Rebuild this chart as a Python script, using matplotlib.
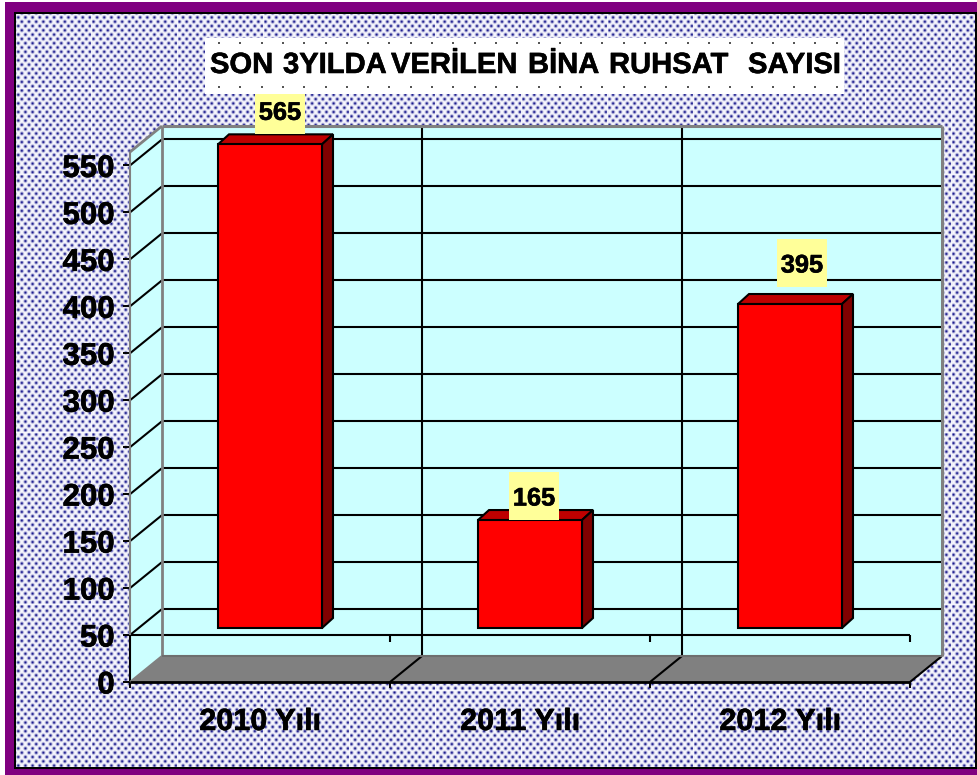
import matplotlib
matplotlib.use('Agg')
import matplotlib.pyplot as plt
import matplotlib.patheffects as pe
import numpy as np
from matplotlib.patches import Polygon, Rectangle
from matplotlib.transforms import Affine2D, IdentityTransform

plt.rcParams['font.family'] = ['Liberation Sans', 'DejaVu Sans']
plt.rcParams['font.weight'] = 'bold'

title_words = ['SON', '3YILDA', 'VERİLEN', 'BİNA', 'RUHSAT', 'SAYISI']
title_left = [210, 283, 391, 528, 609, 748]
categories = ['2010 Yılı', '2011 Yılı', '2012 Yılı']
values = [565, 165, 395]
y_ticks = [0, 50, 100, 150, 200, 250, 300, 350, 400, 450, 500, 550]
base = 50

W, H = 978, 775
fig = plt.figure(figsize=(W / 100, H / 100), dpi=100, facecolor='white')
thick = [pe.withStroke(linewidth=0.4, foreground='black')]


# dotted wallpaper, tiles of 86 px with a pale seam
def make_tile(size=86, px=7.17, py=4.3):
    yy, xx = np.mgrid[0:size, 0:size].astype(float)
    dark = np.zeros((size, size))
    for r in range(-1, int(size / py) + 2):
        for c in range(-1, int(size / px) + 2):
            cx = c * px + (r % 2) * px / 2 + 2
            cy = r * py + 2
            dark = np.maximum(dark, np.exp(-((xx - cx) ** 2 + (yy - cy) ** 2) / 2.4))
    dark[:, 0] *= 0.2
    dark[0, :] *= 0.2
    return dark


tile = make_tile()
ys = (np.arange(H) - 174) % 86
xs = (np.arange(W) - 91) % 86
dark = tile[np.ix_(ys, xs)]
white = np.array([0.98, 0.98, 1.0])
navy = np.array([0.10, 0.10, 0.55])
pattern = white[None, None, :] * (1 - dark[..., None]) + navy[None, None, :] * dark[..., None]

bg = fig.add_axes([0, 0, 1, 1])
bg.set_xlim(0, W)
bg.set_ylim(H, 0)
bg.axis('off')
bg.imshow(pattern, extent=(0, W, H, 0), interpolation='nearest', aspect='auto', zorder=0)

# purple frame and black inner line
purple = '#800080'
bg.add_patch(Rectangle((0, 0), 5, H, fc='white', ec='none', zorder=1))
bg.add_patch(Rectangle((0, 0), W, 2, fc='white', ec='none', zorder=1))
bg.add_patch(Rectangle((5, 2), W, 10, fc=purple, ec='none', zorder=1))
bg.add_patch(Rectangle((5, 2), 9, H, fc=purple, ec='none', zorder=1))
bg.add_patch(Rectangle((5, 769), W, 6, fc=purple, ec='none', zorder=1))
bg.add_patch(Rectangle((14, 12), 2, 757, fc='black', ec='none', zorder=2))
bg.add_patch(Rectangle((14, 12), W, 2, fc='black', ec='none', zorder=2))
bg.add_patch(Rectangle((14, 767), W, 2, fc='black', ec='none', zorder=2))
bg.add_patch(Rectangle((975, 12), 2, 757, fc='black', ec='none', zorder=2))

# chart axes = front plane of the 3d box
ax = fig.add_axes([130 / W, (H - 682) / H, 780 / W, 530 / H])
ax.patch.set_alpha(0)
ax.set_xlim(0, 3)
ax.set_ylim(0, 564.3)
ax.set_autoscale_on(False)
for s in ax.spines.values():
    s.set_visible(False)

DX, DY = 32, 26  # box depth in px


def pt(x, y, dx=0, dy=0):
    p = ax.transData.transform((x, y))
    return (p[0] + dx, p[1] + dy)


def poly(points, **kw):
    ax.add_patch(Polygon(points, closed=True, transform=IdentityTransform(), clip_on=False, **kw))


def seg(a, b, color='black', lw=1.5, z=3):
    ax.plot([a[0], b[0]], [a[1], b[1]], color=color, lw=lw, transform=IdentityTransform(),
            clip_on=False, zorder=z, solid_capstyle='butt')


ymax = ax.get_ylim()[1]
wall = '#CCFFFF'
poly([pt(0, 0, DX, DY), pt(0, ymax, DX, DY), pt(3, ymax, DX, DY), pt(3, 0, DX, DY)],
     fc=wall, ec='none', zorder=1)
poly([pt(0, 0), pt(0, ymax), pt(0, ymax, DX, DY), pt(0, 0, DX, DY)], fc=wall, ec='none', zorder=1)
poly([pt(0, 0), pt(3, 0), pt(3, 0, DX, DY), pt(0, 0, DX, DY)], fc='#808080', ec='none', zorder=1)

# grid on the walls
for t in y_ticks[1:]:
    seg(pt(0, t), pt(0, t, DX, DY))
    seg(pt(0, t, DX, DY), pt(3, t, DX, DY))
for i in [1, 2]:
    seg(pt(i, 0, DX, DY), pt(i, ymax, DX, DY))
for i in [1, 2, 3]:
    seg(pt(i, 0), pt(i, 0, DX, DY))

# grey box edges
grey = '#808080'
seg(pt(0, 0, DX, DY), pt(0, ymax, DX, DY), grey, 2, 4)
seg(pt(0, ymax), pt(0, ymax, DX, DY), grey, 2, 4)
seg(pt(0, ymax, DX, DY), pt(3, ymax, DX, DY), grey, 2.2, 4)
seg(pt(3, 0, DX, DY), pt(3, ymax, DX, DY), grey, 2.2, 4)
seg(pt(0, base), pt(0, ymax), grey, 1.5, 4)
seg(pt(0, 0), pt(0, 0, DX, DY), grey, 1.5, 4)
seg(pt(0, 0, DX, DY), pt(3, 0, DX, DY), '#6e6e6e', 1.5, 4)

# axis drawn at the bars' base value, with its little ticks
seg(pt(0, base), pt(3, base))
for i in [1, 2, 3]:
    seg(pt(i, base), pt(i, base, 0, -7))
seg(pt(0, 0), pt(0, base))
seg(pt(0, 0), pt(3, 0), lw=2, z=5)

# bars
x = np.arange(len(values)) + 0.5
bar_w = 0.4
OX, OY = 10, 7
off = Affine2D().translate(OX, OY)
hts = [v - base for v in values]
ax.bar(x, hts, bar_w, bottom=base, color='#FF0000', edgecolor='black', linewidth=1.5,
       transform=ax.transData + off, clip_on=False, zorder=7)
bd, bh = 11, 10
for xi, v in zip(x, values):
    l, r = xi - bar_w / 2, xi + bar_w / 2
    poly([pt(l, v, OX, OY), pt(r, v, OX, OY), pt(r, v, OX + bd, OY + bh), pt(l, v, OX + bd, OY + bh)],
         fc='#BF0000', ec='black', lw=1.5, zorder=6)
    poly([pt(r, base, OX, OY), pt(r, v, OX, OY), pt(r, v, OX + bd, OY + bh), pt(r, base, OX + bd, OY + bh)],
         fc='#800000', ec='black', lw=1.5, zorder=6)

# data labels on pale yellow boxes (offsets from bar top in px)
label_off = [(20, 41), (14, 31), (22, 48)]
for xi, v, (ox, oy) in zip(x, values, label_off):
    cx, cy = pt(xi, v, ox, oy)
    ax.add_patch(Rectangle((cx - 25, cy - 24), 50, 48, fc='#FFFF99', ec='none',
                           transform=IdentityTransform(), clip_on=False, zorder=8))
    ax.text(cx, cy, str(v), transform=IdentityTransform(), ha='center', va='center_baseline',
            fontsize=18.3, color='black', zorder=9, path_effects=thick)

# ticks and labels
ax.set_yticks(y_ticks)
ax.tick_params(axis='y', length=5, width=1.4, pad=6, labelsize=22.5, color='black')
ax.set_xticks([0, 1, 2, 3])
ax.set_xticklabels([])
ax.tick_params(axis='x', which='major', length=4.5, width=1.4)
ax.set_xticks(x, minor=True)
ax.set_xticklabels(categories, minor=True, fontsize=22)
ax.tick_params(axis='x', which='minor', length=0, pad=18)
for lab in ax.get_yticklabels() + ax.get_xticklabels(minor=True):
    lab.set_path_effects(thick)

# title box on top of everything
tb = fig.add_axes([0, 0, 1, 1], zorder=10)
tb.set_xlim(0, W)
tb.set_ylim(H, 0)
tb.axis('off')
tb.add_patch(Rectangle((205, 38), 639, 56, fc='white', ec='none'))
dots_x = np.arange(219, 840, 21.3)
tb.scatter(dots_x, np.full(len(dots_x), 43), s=4, c='#555555', marker='s', linewidths=0)
tb.scatter(dots_x, np.full(len(dots_x), 87), s=4, c='#555555', marker='s', linewidths=0)
for word, left in zip(title_words, title_left):
    tb.text(left, 65, word, ha='left', va='center', fontsize=21, color='black', path_effects=thick)

fig.savefig('out.png', dpi=100)
